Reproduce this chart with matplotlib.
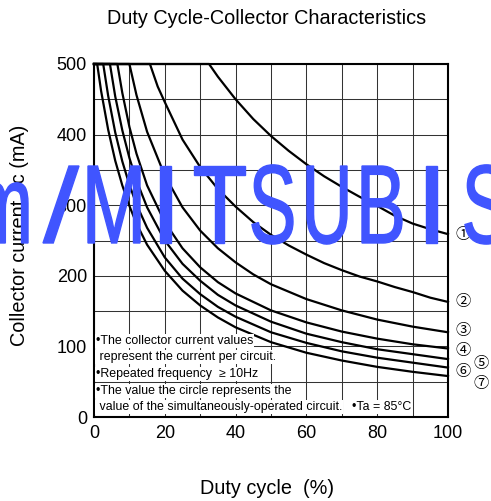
import matplotlib
matplotlib.use("Agg")
import matplotlib.pyplot as plt
from matplotlib.textpath import TextPath
from matplotlib.patches import PathPatch
from matplotlib.font_manager import FontProperties
from matplotlib.transforms import Affine2D

plt.rcParams['font.family'] = ['Liberation Sans', 'DejaVu Sans']

# ---------------- data ----------------
duty_1 = [0, 32.5, 35, 40, 45, 50, 55, 60, 65, 70, 75, 80, 85, 90, 95, 100]
ic_1 = [500, 500, 482, 450, 422, 398, 377, 358, 341, 326, 312, 299, 285, 274, 266, 259]

duty_2 = [0, 15.8, 18, 20, 25, 30, 35, 40, 45, 50, 55, 60, 65, 70, 75, 80, 85, 90, 95, 100]
ic_2 = [500, 500, 468, 446, 393, 354, 323, 298, 276, 258, 243, 230, 218, 208, 199, 192, 184, 177, 169, 163]

duty_3 = [0, 10, 12, 15, 20, 25, 30, 35, 40, 45, 50, 60, 70, 80, 90, 100]
ic_3 = [500, 500, 456, 404, 342, 297, 264, 239, 219, 202, 188, 167, 151, 138, 128, 120]

duty_4 = [0, 6.6, 8, 10, 12, 15, 20, 25, 30, 35, 40, 50, 60, 70, 80, 90, 100]
ic_4 = [500, 500, 459, 411, 373, 328, 276, 239, 212, 191, 175, 151, 134, 121, 111, 103, 97]

duty_5 = [0, 4.5, 6, 8, 10, 12, 15, 20, 25, 30, 35, 40, 50, 60, 70, 80, 90, 100]
ic_5 = [500, 500, 454, 406, 367, 335, 297, 250, 217, 193, 173, 158, 135, 118, 106, 96, 89, 82]

duty_6 = [0, 2.6, 4, 6, 8, 10, 12, 15, 20, 25, 30, 35, 40, 50, 60, 70, 80, 90, 100]
ic_6 = [500, 500, 455, 403, 362, 329, 301, 268, 226, 196, 174, 156, 142, 120, 105, 93, 84, 77, 70]

duty_7 = [0, 0.9, 2, 4, 6, 8, 10, 12, 15, 20, 25, 30, 35, 40, 50, 60, 70, 80, 90, 100]
ic_7 = [500, 500, 462, 407, 363, 328, 299, 274, 244, 207, 179, 158, 141, 127, 106, 91, 80, 71, 64, 58]

curve_labels = ['①', '②', '③', '④', '⑤', '⑥', '⑦']
x_ticks = [0, 20, 40, 60, 80, 100]
y_ticks = [0, 100, 200, 300, 400, 500]

note_lines = ["•The collector current values",
              " represent the current per circuit.",
              "•Repeated frequency  \u2265 10Hz",
              "•The value the circle represents the",
              " value of the simultaneously-operated circuit."]
note_ta = "•Ta = 85°C"

# ---------------- figure ----------------
W, H = 491, 501
fig = plt.figure(figsize=(W / 100, H / 100), dpi=100)
ax = fig.add_axes([94 / W, 1 - 417 / H, 354 / W, 353 / H])

ax.set_xlim(0, 100)
ax.set_ylim(0, 500)
ax.set_xticks(x_ticks)
ax.set_yticks(y_ticks)
ax.set_xticks(range(0, 101, 10), minor=True)
ax.set_yticks(range(0, 501, 50), minor=True)
ax.grid(which='both', color='#333333', linewidth=0.75)
ax.set_axisbelow(True)
ax.tick_params(which='both', length=0)
ax.tick_params(axis='x', labelsize=13, pad=6)
ax.tick_params(axis='y', labelsize=13, pad=5)
for s in ax.spines.values():
    s.set_linewidth(1.5)
    s.set_color('black')

curves = [(duty_1, ic_1), (duty_2, ic_2), (duty_3, ic_3), (duty_4, ic_4),
          (duty_5, ic_5), (duty_6, ic_6), (duty_7, ic_7)]
for d, i in curves:
    ax.plot(d, i, color='black', linewidth=1.6, clip_on=False, zorder=3,
            solid_joinstyle='round')

# circled labels at the right end of each curve
label_dx = [11, 11, 11, 11, 24, 11, 24]   # points
label_dy = [0, 0, 1.5, -1.5, -3, -2.5, -5.5]
for (d, i), lab, dx, dy in zip(curves, curve_labels, label_dx, label_dy):
    ax.annotate(lab, xy=(d[-1], i[-1]), xytext=(dx, dy), textcoords='offset points',
                ha='center', va='center', fontsize=11,
                family=['Noto Sans CJK JP', 'DejaVu Sans'], annotation_clip=False)

# notes inside the plot
note_y = [341, 357, 374, 391, 407]
note_x = [96, 96, 96, 96, 96]
for t, x, y in zip(note_lines, note_x, note_y):
    fig.text(x / W, 1 - y / H, t, fontsize=8.9, va='center', ha='left',
             bbox=dict(facecolor='white', edgecolor='none', pad=0.8))
fig.text(352 / W, 1 - 407 / H, note_ta, fontsize=8.9, va='center', ha='left',
         bbox=dict(facecolor='white', edgecolor='none', pad=0.8))

fig.text(267 / W, 1 - 18 / H, 'Duty Cycle-Collector Characteristics',
         fontsize=14.3, ha='center', va='center')
fig.text(267 / W, 1 - 488 / H, 'Duty cycle  (%)', fontsize=14.3, ha='center', va='center')
fig.text(20 / W, 1 - 235 / H, 'Collector current  Ic (mA)', fontsize=14.3,
         ha='center', va='center', rotation=90)

# watermark
wm_chars = ['m', '/', 'M', 'I', 'T', 'S', 'U', 'B', 'I', 'S']
wm_left = [-24, 43, 88, 160, 194, 252, 307, 362, 426, 465]
wm_right = [28, 79, 140, 171, 245, 293, 347, 402, 437, 507]
fp = FontProperties(family='Liberation Sans')
capM = TextPath((0, 0), 'M', size=1, prop=fp).get_extents()
top_px, base_px = 166, 243
sy = (base_px - top_px) / capM.height
for ch, l, r in zip(wm_chars, wm_left, wm_right):
    p = TextPath((0, 0), ch, size=1, prop=fp)
    e = p.get_extents()
    sx = (r - l) / e.width
    y0 = H - base_px
    if ch == '/':
        syy = (base_px - top_px) / e.height
        tr = Affine2D().translate(-e.x0, -e.y0).scale(sx, syy).translate(l, y0)
    else:
        tr = Affine2D().translate(-e.x0, 0).scale(sx, sy).translate(l, y0)
    tr = tr + Affine2D().scale(1 / W, 1 / H)
    pp = tr.transform_path(p)
    fig.add_artist(PathPatch(pp, facecolor='#4055ff', edgecolor='#4055ff',
                             linewidth=1.0, transform=fig.transFigure, zorder=10))

fig.savefig('out.png', dpi=100)
